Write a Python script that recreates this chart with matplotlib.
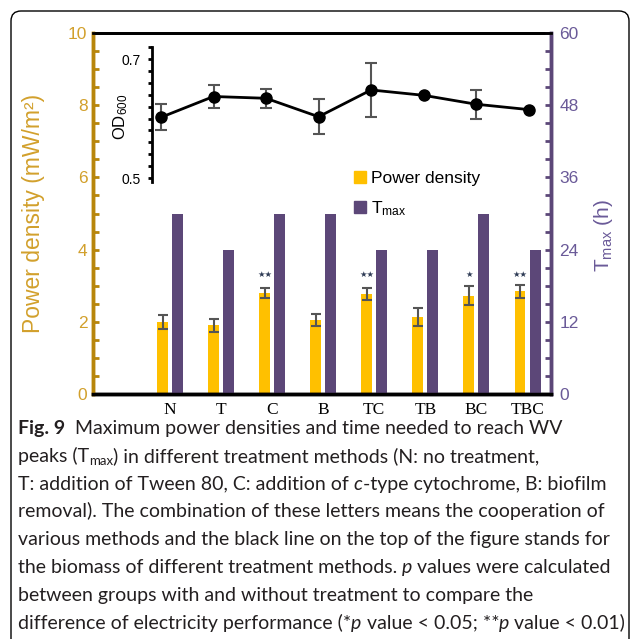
import numpy as np
import matplotlib.pyplot as plt
from matplotlib.patches import FancyBboxPatch, Patch
from matplotlib.transforms import IdentityTransform
from matplotlib.ticker import MultipleLocator

plt.rcParams['mathtext.fontset'] = 'custom'
plt.rcParams['mathtext.rm'] = 'Liberation Sans'
plt.rcParams['mathtext.it'] = 'Liberation Sans:italic'

#%% data
categories = ["N", "T", "C", "B", "TC", "TB", "BC", "TBC"]
power = [2.0, 1.9, 2.8, 2.05, 2.78, 2.13, 2.72, 2.85]
power_err = [0.2, 0.19, 0.13, 0.17, 0.17, 0.26, 0.26, 0.18]
tmax = [30, 24, 30, 30, 24, 24, 30, 24]
od600 = [0.602, 0.637, 0.634, 0.603, 0.648, 0.639, 0.624, 0.615]
od_err = [0.022, 0.019, 0.016, 0.029, 0.045, 0.0, 0.024, 0.0]
stars = ["", "", "**", "", "**", "", "*", "**"]

gold_spine = "#B8860B"
gold_txt = "#D2A02C"
yellow = "#FFC000"
purple = "#5C4778"
purple_txt = "#6A5A98"

#%% figure
fig = plt.figure(figsize=(6.3, 6.39), dpi=100)
W, H = 630, 639

ax = fig.add_axes([93 / W, 1 - 394 / H, 458 / W, 361 / H])
ax2 = ax.twinx()
x = np.arange(len(categories))
off, bw = 0.147, 0.215

ax.bar(x - off, power, bw, color=yellow, zorder=2)
ax.errorbar(x - off, power, yerr=power_err, fmt="none", ecolor="#555555",
            elinewidth=1.5, capsize=3.5, capthick=1.5, zorder=3)
ax2.bar(x + off, tmax, bw, color=purple, zorder=2)

for xi, s in zip(x, stars):
    if s:
        ax.text(xi - off, 3.3, "\u2605" * len(s), ha="center", va="center",
                fontsize=6, color="#2e3b55", zorder=4)

ax.set_xlim(-1.508, 7.46)
ax.set_ylim(0, 10)
ax2.set_ylim(0, 60)
ax.set_xticks(x)
ax.set_xticklabels(categories, fontfamily="Liberation Serif", fontsize=12.5)
ax.tick_params(axis="x", length=0, pad=6)

ax.yaxis.set_major_locator(MultipleLocator(2))
ax.yaxis.set_minor_locator(MultipleLocator(0.5))
ax.tick_params(axis="y", which="both", direction="in", color=gold_spine,
               width=2, length=4, labelcolor=gold_txt, labelsize=12.5, pad=4)
for lab in ax.get_yticklabels():
    lab.set_fontfamily("Liberation Sans")

ax2.yaxis.set_major_locator(MultipleLocator(12))
ax2.yaxis.set_minor_locator(MultipleLocator(3))
ax2.tick_params(axis="y", which="both", direction="in", color=purple,
                width=2, length=4, labelcolor=purple_txt, labelsize=12.5, pad=6)
for lab in ax2.get_yticklabels():
    lab.set_fontfamily("Liberation Sans")

for a in (ax, ax2):
    a.spines["top"].set_linewidth(2)
    a.spines["bottom"].set_linewidth(2.5)
    a.spines["left"].set_color(gold_spine)
    a.spines["left"].set_linewidth(2.5)
    a.spines["right"].set_color(purple)
    a.spines["right"].set_linewidth(2.5)

ax.set_ylabel("Power density (mW/m\u00b2)", fontfamily="Liberation Sans",
              fontsize=16.5, color=gold_txt)
ax.yaxis.set_label_coords(-0.105, 0.5)
ax2.set_ylabel(r"T$_{\rm max}$ (h)", fontfamily="Liberation Sans",
               fontsize=15, color=purple_txt, rotation=90)
ax2.yaxis.set_label_coords(1.09, 0.44)

#%% inset OD600
ins = fig.add_axes([152 / W, 1 - 182 / H, 399 / W, 135 / H])
ins.patch.set_alpha(0)
ins.errorbar(x, od600, yerr=od_err, color="black", lw=2, marker="o", ms=8,
             ecolor="#555555", elinewidth=1.5, capsize=4, capthick=1.5)
ins.set_xlim(-0.171, 7.425)
ins.set_ylim(0.4933, 0.7202)
for s in ("top", "right", "bottom"):
    ins.spines[s].set_visible(False)
ins.spines["left"].set_linewidth(2)
ins.set_xticks([])
ins.set_yticks([0.5, 0.6, 0.7])
ins.set_yticklabels(["0.5", "", "0.7"], fontfamily="Liberation Sans")
ins.yaxis.set_minor_locator(MultipleLocator(0.02))
ins.tick_params(axis="y", which="both", direction="out", length=3, width=2,
                labelsize=10, pad=5)
ins.set_ylabel(r"OD$_{600}$", fontfamily="Liberation Sans", fontsize=12)
ins.yaxis.set_label_coords(-0.055, 0.48)

#%% legend
handles = [Patch(color=yellow), Patch(color=purple)]
fig.legend(handles, ["Power density", r"T$_{\rm max}$"], loc="upper left",
           bbox_to_anchor=(354 / W, 1 - 171 / H), frameon=False,
           prop={"family": "Liberation Sans", "size": 12.5},
           handlelength=0.7, handleheight=0.7, handletextpad=0.3,
           labelspacing=0.75, borderaxespad=0, borderpad=0)

#%% border
box = FancyBboxPatch((11, -60), 618, 628 + 60, boxstyle="round,pad=0,rounding_size=10",
                     transform=IdentityTransform(), fill=False, ec="black", lw=1)
fig.patches.append(box)

#%% caption
REG = dict(family="Lato", size=14, color="#231f20")
lines = [
    [("Fig. 9", dict(weight="bold")), ("  Maximum power densities and time needed to reach WV", {})],
    [("peaks (T", {}), ("max", dict(size=9.5, sub=True)), (") in different treatment methods (N: no treatment,", {})],
    [("T: addition of Tween 80, C: addition of ", {}), ("c", dict(style="italic")), ("-type cytochrome, B: biofilm", {})],
    [("removal). The combination of these letters means the cooperation of", {})],
    [("various methods and the black line on the top of the figure stands for", {})],
    [("the biomass of different treatment methods. ", {}), ("p", dict(style="italic")), (" values were calculated", {})],
    [("between groups with and without treatment to compare the", {})],
    [("difference of electricity performance (*", {}), ("p", dict(style="italic")),
     (" value < 0.05; **", {}), ("p", dict(style="italic")), (" value < 0.01)", {})],
]
renderer = fig.canvas.get_renderer()
y0 = 434
for i, runs in enumerate(lines):
    xp = 18
    yp = y0 + i * 27.8
    for txt, kw in runs:
        kw = dict(kw)
        sub = kw.pop("sub", False)
        style = dict(REG)
        style.update(kw)
        t = fig.text(xp / W, 1 - (yp + (3 if sub else 0)) / H, txt, ha="left",
                     va="baseline", **style)
        xp += t.get_window_extent(renderer).width

fig.savefig("out.png", dpi=100)
